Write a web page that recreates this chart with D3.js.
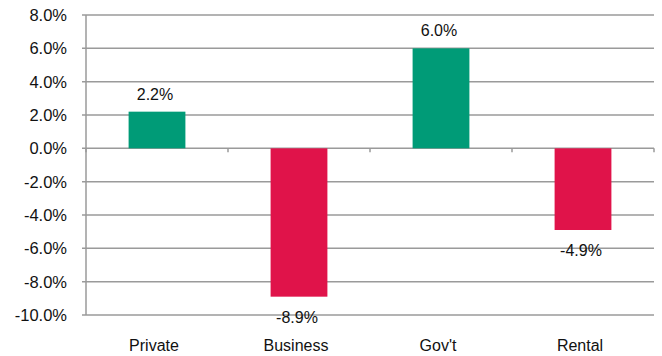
<!DOCTYPE html>
<html>
<head>
<meta charset="utf-8">
<script src="https://cdn.jsdelivr.net/npm/d3@7"></script>
<style>
  body { margin: 0; background: #fff; }
  text { font-family: "Liberation Sans", Arial, sans-serif; fill: #111; }
</style>
</head>
<body>
<div id="chart"></div>
<script>
const categories = ['Private', 'Business', "Gov't", 'Rental'];
const values = [2.2, -8.9, 6.0, -4.9];
const yTicks = [8, 6, 4, 2, 0, -2, -4, -6, -8, -10];

const width = 662;
const height = 356;
const margin = { top: 15, right: 8, bottom: 41, left: 86 };
const innerW = width - margin.left - margin.right;
const innerH = height - margin.top - margin.bottom;

const svg = d3.select('#chart')
  .append('svg')
  .attr('width', width)
  .attr('height', height)
  .append('g')
  .attr('transform', `translate(${margin.left},${margin.top})`);

const x = d3.scaleBand()
  .domain(categories)
  .range([0, innerW])
  .paddingInner(0.6)
  .paddingOuter(0.3);

const y = d3.scaleLinear()
  .domain([-10, 8])
  .range([innerH, 0]);

// gridlines
svg.selectAll('.grid')
  .data(yTicks)
  .enter()
  .append('line')
  .attr('x1', -4)
  .attr('x2', innerW)
  .attr('y1', (d) => y(d))
  .attr('y2', (d) => y(d))
  .attr('stroke', '#9a9a9a')
  .attr('stroke-width', 1.5);

// y axis line
svg.append('line')
  .attr('x1', 0).attr('x2', 0)
  .attr('y1', 0).attr('y2', innerH)
  .attr('stroke', '#9a9a9a')
  .attr('stroke-width', 1.5);

// y tick labels
svg.selectAll('.ylab')
  .data(yTicks)
  .enter()
  .append('text')
  .attr('x', -19)
  .attr('y', (d) => y(d))
  .attr('dy', '0.36em')
  .attr('text-anchor', 'end')
  .style('font-size', '16.5px')
  .text((d) => `${d.toFixed(1)}%`);

// category boundary ticks on zero line
const step = x.step();
svg.selectAll('.xtick')
  .data(d3.range(categories.length + 1))
  .enter()
  .append('line')
  .attr('x1', (i) => i * step)
  .attr('x2', (i) => i * step)
  .attr('y1', y(0))
  .attr('y2', y(0) + 4)
  .attr('stroke', '#9a9a9a')
  .attr('stroke-width', 1.5);

// bars
svg.selectAll('.bar')
  .data(values)
  .enter()
  .append('rect')
  .attr('x', (d, i) => x(categories[i]))
  .attr('width', x.bandwidth())
  .attr('y', (d) => (d >= 0 ? y(d) : y(0)))
  .attr('height', (d) => Math.abs(y(d) - y(0)))
  .attr('fill', (d) => (d >= 0 ? '#009B77' : '#E0134A'));

// value labels
svg.selectAll('.vlab')
  .data(values)
  .enter()
  .append('text')
  .attr('x', (d, i) => x(categories[i]) + x.bandwidth() / 2 - 2)
  .attr('y', (d) => (d >= 0 ? y(d) - 12 : y(d) + 26))
  .attr('text-anchor', 'middle')
  .style('font-size', '16px')
  .text((d) => `${d.toFixed(1)}%`);

// category labels
svg.selectAll('.clab')
  .data(categories)
  .enter()
  .append('text')
  .attr('x', (d) => x(d) + x.bandwidth() / 2 - 3)
  .attr('y', innerH + 36)
  .attr('text-anchor', 'middle')
  .style('font-size', '16px')
  .text((d) => d);
</script>
</body>
</html>
